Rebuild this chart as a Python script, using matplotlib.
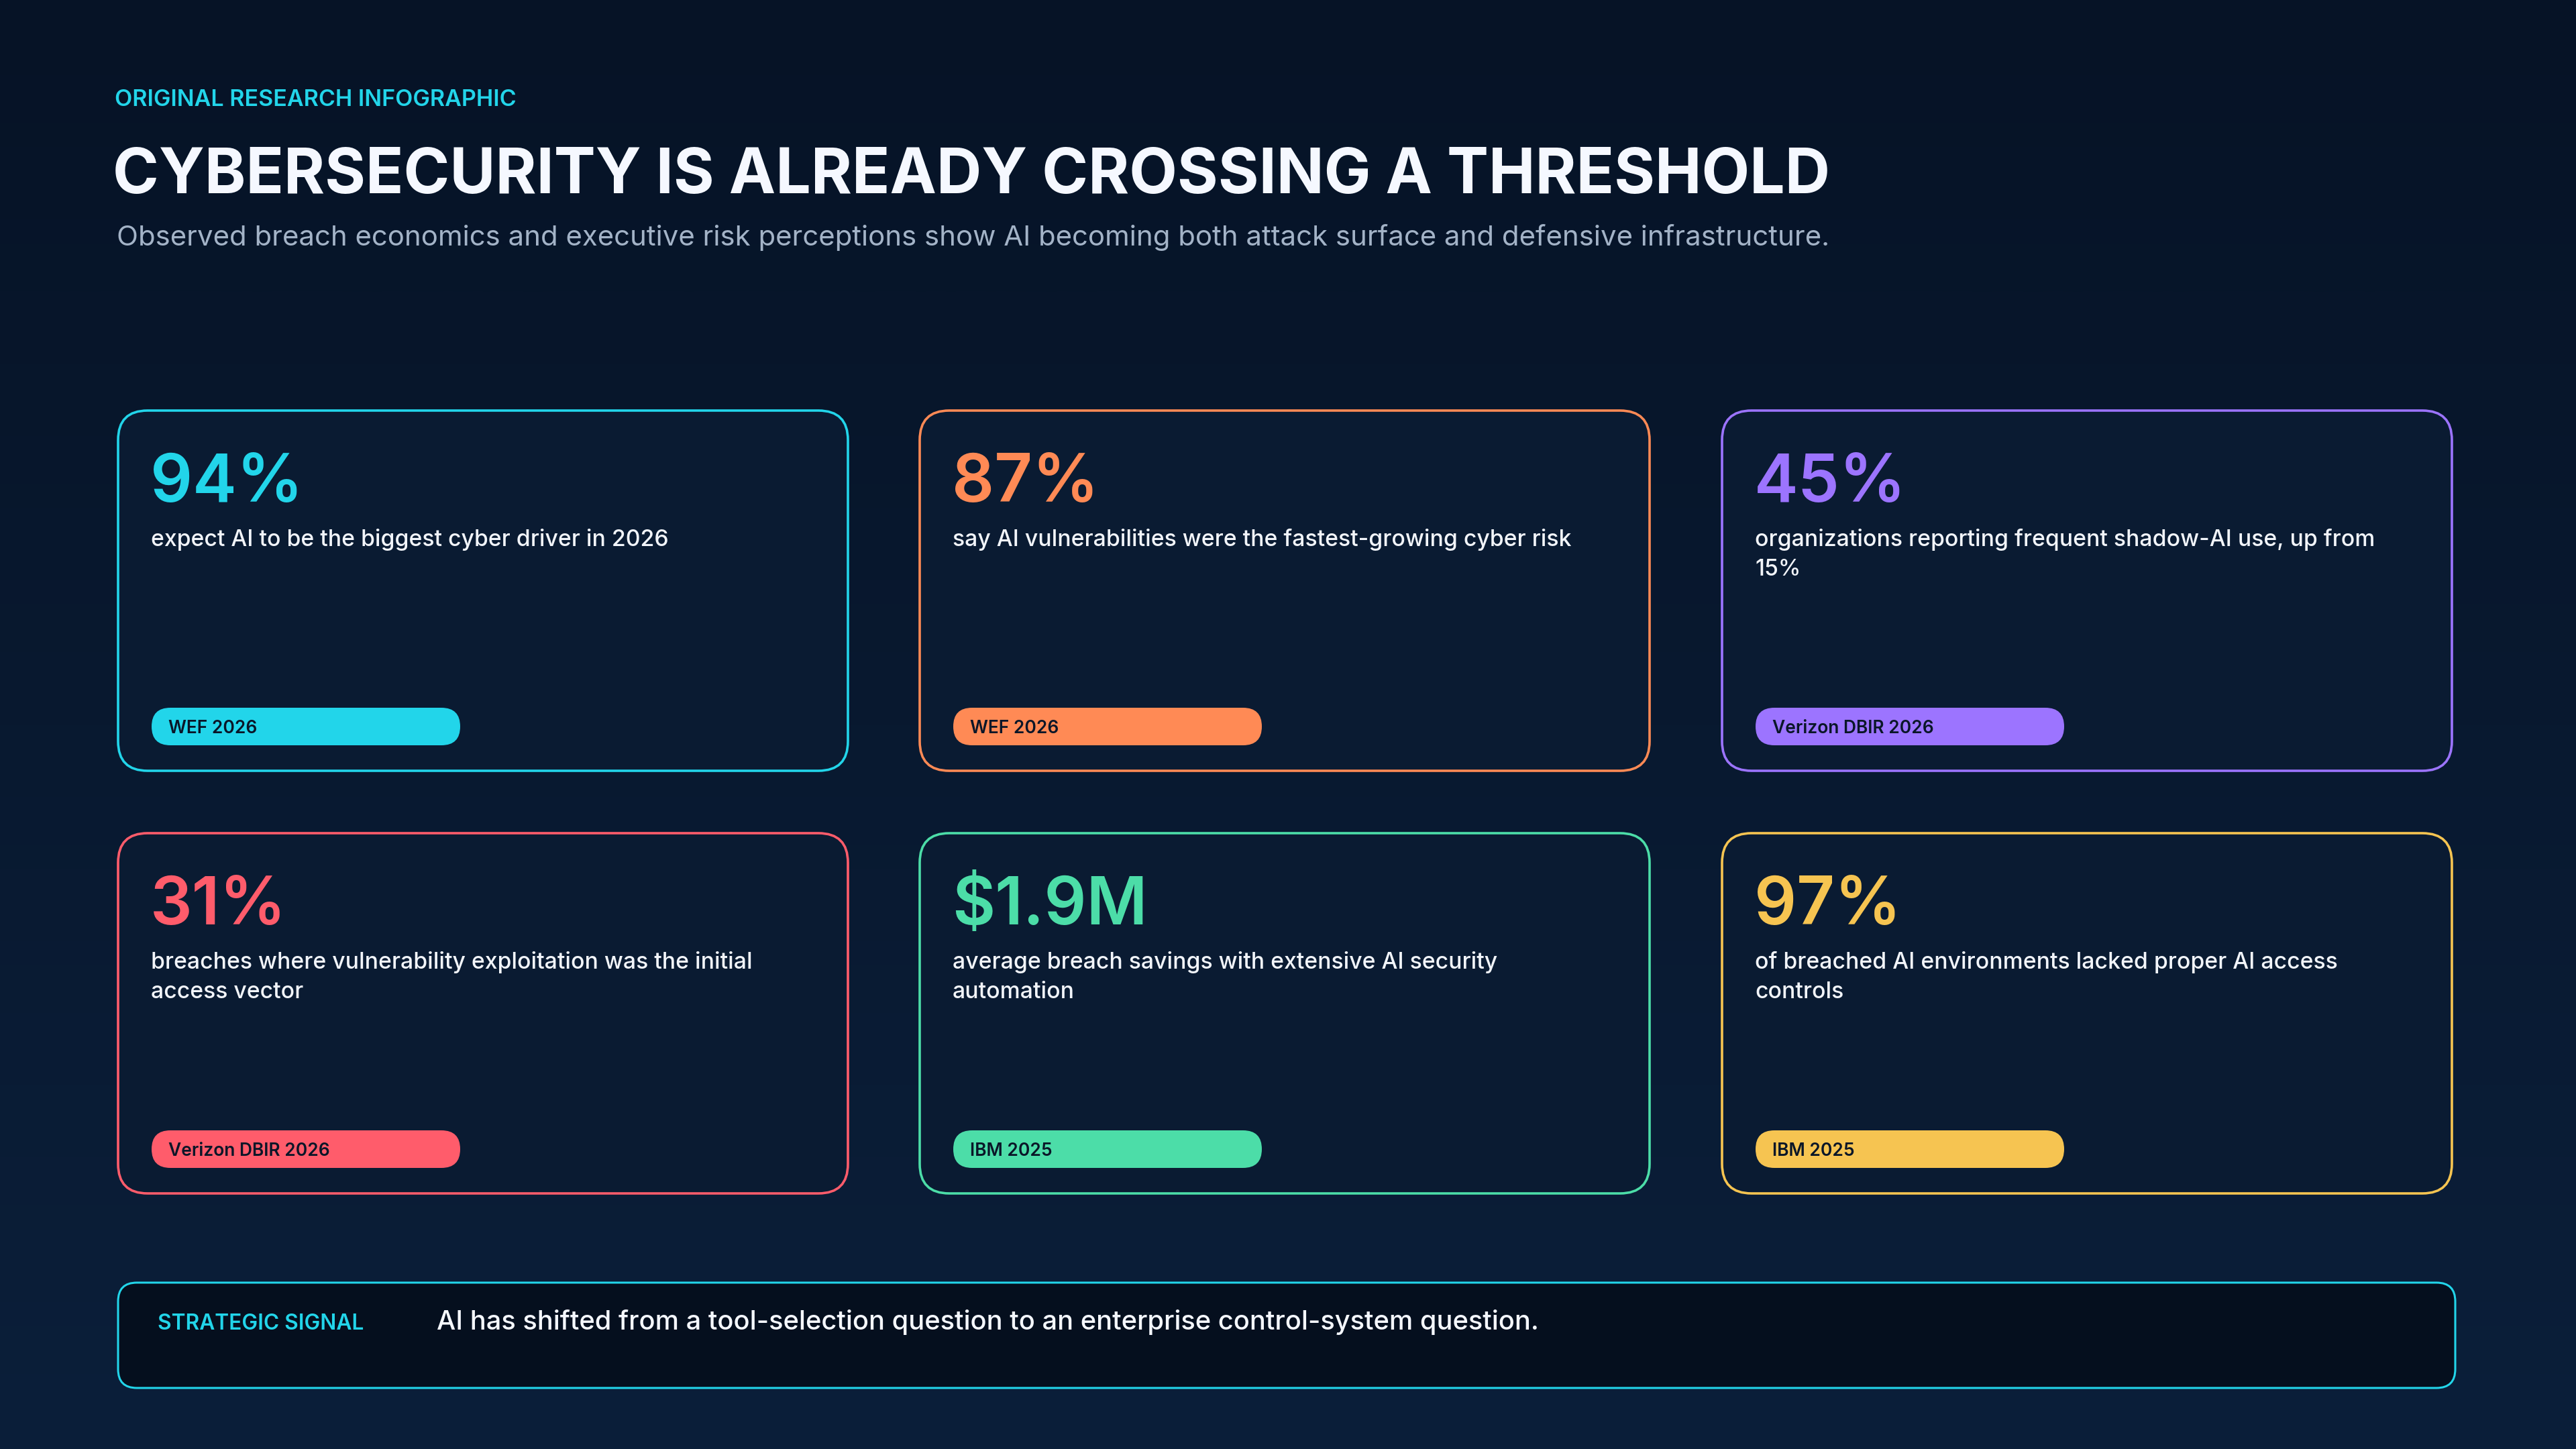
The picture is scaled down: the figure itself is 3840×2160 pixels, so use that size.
import matplotlib
matplotlib.use("Agg")
import matplotlib.pyplot as plt
from matplotlib.patches import FancyBboxPatch
import numpy as np

plt.rcParams['font.family'] = ['Inter', 'DejaVu Sans']

# ---------------- data ----------------
kicker = "ORIGINAL RESEARCH INFOGRAPHIC"
title = "CYBERSECURITY IS ALREADY CROSSING A THRESHOLD"
subtitle = ("Observed breach economics and executive risk perceptions show AI becoming "
            "both attack surface and defensive infrastructure.")

stat_values = ["94%", "87%", "45%", "31%", "$1.9M", "97%"]
stat_descriptions = [
    "expect AI to be the biggest cyber driver in 2026",
    "say AI vulnerabilities were the fastest-growing cyber risk",
    "organizations reporting frequent shadow-AI use, up from\n15%",
    "breaches where vulnerability exploitation was the initial\naccess vector",
    "average breach savings with extensive AI security\nautomation",
    "of breached AI environments lacked proper AI access\ncontrols",
]
stat_sources = ["WEF 2026", "WEF 2026", "Verizon DBIR 2026",
                "Verizon DBIR 2026", "IBM 2025", "IBM 2025"]
stat_colors = ["#22D5EA", "#FF8A55", "#9C74FF", "#FF5C6B", "#4CDDA8", "#F6C451"]

signal_label = "STRATEGIC SIGNAL"
signal_text = "AI has shifted from a tool-selection question to an enterprise control-system question."

# ---------------- figure ----------------
W, H = 3840, 2160
fig = plt.figure(figsize=(W / 100, H / 100), dpi=100)
ax = fig.add_axes([0, 0, 1, 1])
ax.set_xlim(0, W)
ax.set_ylim(H, 0)
ax.axis("off")

# background vertical gradient
top = np.array([0x06, 0x13, 0x26]) / 255
bot = np.array([0x0B, 0x1F, 0x3A]) / 255
t = np.linspace(0, 1, 256)[:, None]
grad = (top[None, :] * (1 - t) + bot[None, :] * t)[:, None, :]
ax.imshow(grad, extent=[0, W, H, 0], aspect="auto", zorder=0, interpolation="bicubic")

# header
ax.text(171, 158, kicker, color="#22D5EA", fontsize=24.5, fontweight="semibold",
        ha="left", va="baseline", zorder=5)
ax.text(168, 288, title, color="#F5F8FF", fontsize=67, fontweight="bold",
        ha="left", va="baseline", zorder=5)
ax.text(174, 366, subtitle, color="#A3B3C7", fontsize=30.2,
        ha="left", va="baseline", zorder=5)

# cards
card_x0 = [176, 1371, 2567]
card_y0 = [612, 1242]
card_w, card_h = 1088, 537
for i in range(6):
    r, c = divmod(i, 3)
    x0, y0 = card_x0[c], card_y0[r]
    col = stat_colors[i]
    card = FancyBboxPatch((x0, y0), card_w, card_h,
                          boxstyle="round,pad=0,rounding_size=44",
                          facecolor="#0A1B32", edgecolor=col, linewidth=2.6, zorder=2)
    ax.add_patch(card)
    ax.text(x0 + 48, y0 + 136, stat_values[i], color=col, fontsize=71,
            fontweight="semibold", ha="left", va="baseline", zorder=5)
    for k, line in enumerate(stat_descriptions[i].split("\n")):
        ax.text(x0 + 49, y0 + 202 + 44 * k, line, color="#F2F5FA", fontsize=24.3,
                fontweight="medium", ha="left", va="baseline", zorder=5)
    pill = FancyBboxPatch((x0 + 50, y0 + 443), 460, 56,
                          boxstyle="round,pad=0,rounding_size=28",
                          facecolor=col, edgecolor="none", zorder=3)
    ax.add_patch(pill)
    ax.text(x0 + 75, y0 + 471, stat_sources[i], color="#0A1628", fontsize=19,
            fontweight="semibold", ha="left", va="center_baseline", zorder=5)

# strategic signal banner
banner = FancyBboxPatch((176, 1912), 3484, 157,
                        boxstyle="round,pad=0,rounding_size=28",
                        facecolor="#050F1E", edgecolor="#22D5EA", linewidth=2.2, zorder=2)
ax.add_patch(banner)
ax.text(235, 1982, signal_label, color="#22D5EA", fontsize=22.8, fontweight="semibold",
        ha="left", va="baseline", zorder=5)
ax.text(651, 1982, signal_text, color="#F5F8FF", fontsize=28.7, fontweight="medium",
        ha="left", va="baseline", zorder=5)

fig.savefig("out.png", dpi=100, facecolor=fig.get_facecolor())
